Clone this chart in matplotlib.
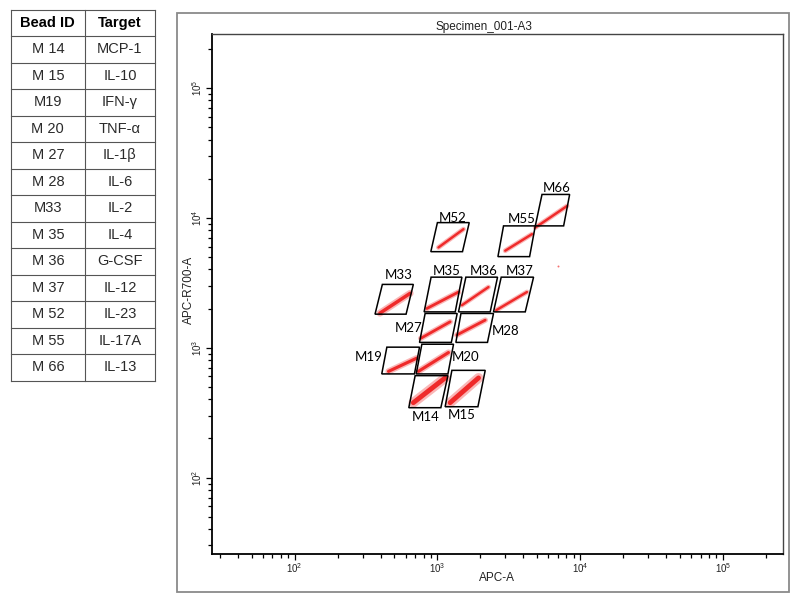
import matplotlib
matplotlib.use("Agg")
import numpy as np
import matplotlib.pyplot as plt
from matplotlib.patches import Polygon, Rectangle
from matplotlib.ticker import FixedLocator, LogLocator, NullFormatter, FuncFormatter

plt.rcParams['mathtext.default'] = 'regular'

# ---------------- data ----------------
bead_ids = ["M 14", "M 15", "M19", "M 20", "M 27", "M 28", "M33",
            "M 35", "M 36", "M 37", "M 52", "M 55", "M 66"]
targets = ["MCP-1", "IL-10", "IFN-γ", "TNF-α", "IL-1β", "IL-6", "IL-2",
           "IL-4", "G-CSF", "IL-12", "IL-23", "IL-17A", "IL-13"]

gate_names = ["M14", "M15", "M19", "M20", "M27", "M28", "M33",
              "M35", "M36", "M37", "M52", "M55", "M66"]
# gate corners (APC-A): bottom-left, bottom-right, top-right, top-left
gate_x = [
    [631, 1058, 1186, 699],
    [1134, 1923, 2164, 1264],
    [408, 691, 750, 443],
    [711, 1186, 1298, 779],
    [750, 1253, 1377, 821],
    [1348, 2244, 2473, 1463],
    [366, 604, 679, 412],
    [808, 1334, 1486, 904],
    [1406, 2345, 2639, 1584],
    [2473, 4127, 4718, 2800],
    [900, 1500, 1672, 1001],
    [2656, 4426, 4852, 2907],
    [4852, 7663, 8442, 5406],
]
# gate bottom / top (APC-R700-A)
gate_y = [
    [345, 609], [351, 669], [628, 1009], [628, 1063], [1098, 1834],
    [1098, 1834], [1811, 3069], [1886, 3490], [1886, 3490], [1886, 3490],
    [5483, 9178], [5022, 8660], [8660, 15120],
]
label_x = [834, 1469, 332, 1566, 627, 2988, 533, 1165, 2106, 3746, 1284, 3914, 6809]
label_y = [295, 301, 855, 855, 1409, 1350, 3595, 3878, 3878, 3878, 10002, 9741, 16980]

# bead populations: low end and high end of each event streak
pop_x0 = [679, 1229, 455, 737, 766, 1370, 396, 844, 1486, 2585, 1018, 2988, 4852]
pop_y0 = [377, 377, 657, 657, 1181, 1252, 1844, 2002, 2122, 1943, 5910, 5579, 8405]
pop_x1 = [1134, 1942, 718, 1196, 1229, 2164, 645, 1406, 2280, 4239, 1524, 4599, 8090]
pop_y1 = [585, 585, 831, 917, 1582, 1630, 2620, 2680, 2927, 2680, 8171, 7483, 12310]
stray_x = [7039]
stray_y = [4287]

x_range = [26.2, 262144]
y_range = [25.8, 262144]
major_ticks = [1e2, 1e3, 1e4, 1e5]

# ---------------- style ----------------
pop_width = [7, 7, 4.5, 4.5, 4, 4, 5, 4, 3.5, 3.5, 3.5, 3.5, 3.5]
narrow = ['Liberation Sans Narrow', 'Liberation Sans', 'DejaVu Sans']
RED = '#ee1111'

fig = plt.figure(figsize=(8, 6.02), dpi=100)

# background layer (table + outer frame) in pixel coordinates
bg = fig.add_axes([0, 0, 1, 1])
bg.set_xlim(0, 800)
bg.set_ylim(602, 0)
bg.axis('off')

# outer frame of plot panel
bg.add_patch(Rectangle((177, 13), 612, 579, fill=False, ec='#8a8a8a', lw=1.3))

# table
t_left, t_mid, t_right, t_top, row_h = 10.7, 85, 155, 9.5, 26.5
n_rows = len(bead_ids) + 1
t_bottom = t_top + n_rows * row_h
lc = '#555555'
for i in range(n_rows + 1):
    y = t_top + i * row_h
    bg.plot([t_left, t_right], [y, y], color=lc, lw=0.8)
for x in (t_left, t_mid, t_right):
    bg.plot([x, x], [t_top, t_bottom], color=lc, lw=0.8)
c1 = (t_left + t_mid) / 2
c2 = (t_mid + t_right) / 2
bg.text(c1, t_top + row_h / 2, "Bead ID", ha='center', va='center',
        fontsize=10.5, fontweight='bold', family='Liberation Sans', color='black')
bg.text(c2, t_top + row_h / 2, "Target", ha='center', va='center',
        fontsize=10.5, fontweight='bold', family='Liberation Sans', color='black')
for i, (b, t) in enumerate(zip(bead_ids, targets)):
    yc = t_top + (i + 1.5) * row_h
    bg.text(c1, yc, b, ha='center', va='center', fontsize=10.5,
            family='Liberation Sans', color='#2a2a2a')
    bg.text(c2, yc, t, ha='center', va='center', fontsize=10.5,
            family=['Liberation Sans', 'DejaVu Sans'], color='#2a2a2a')

# title and axis labels
fig.text(484 / 800, 1 - 30 / 602, "Specimen_001-A3", ha='center', va='baseline',
         fontsize=8.5, family=narrow, color='#222222', zorder=10)
fig.text(497 / 800, 1 - 578 / 602, "APC-A", ha='center', va='center',
         fontsize=8.5, family=narrow, color='#222222')
fig.text(189 / 800, 1 - 290 / 602, "APC-R700-A", ha='center', va='center',
         rotation=90, fontsize=8.5, family=narrow, color='#222222')

# ---------------- dot plot ----------------
ax = fig.add_axes([211.5 / 800, 1 - 554 / 602, 571.2 / 800, 520.5 / 602])
ax.patch.set_visible(False)
ax.set_xscale('log')
ax.set_yscale('log')
ax.set_xlim(*x_range)
ax.set_ylim(*y_range)

for i in range(len(gate_names)):
    xs = gate_x[i]
    yb, yt = gate_y[i]
    poly = Polygon(list(zip(xs, [yb, yb, yt, yt])), closed=True, fill=False,
                   ec='black', lw=1.1, zorder=3)
    ax.add_patch(poly)
    w = pop_width[i]
    ax.plot([pop_x0[i], pop_x1[i]], [pop_y0[i], pop_y1[i]], color=RED, lw=w,
            alpha=0.3, solid_capstyle='round', zorder=2)
    ax.plot([pop_x0[i], pop_x1[i]], [pop_y0[i], pop_y1[i]], color=RED, lw=w * 0.5,
            alpha=0.85, solid_capstyle='round', zorder=2)
    ax.text(label_x[i], label_y[i], gate_names[i], ha='center', va='center',
            fontsize=9.5, family=['Lato', 'DejaVu Sans'], color='black', zorder=4)

ax.scatter(stray_x, stray_y, s=2, color=RED, alpha=0.6, lw=0)

for axis in (ax.xaxis, ax.yaxis):
    axis.set_major_locator(FixedLocator(major_ticks))
    axis.set_minor_locator(LogLocator(base=10, subs=np.arange(2, 10)))
    axis.set_minor_formatter(NullFormatter())
    axis.set_major_formatter(FuncFormatter(lambda v, p: r'$10^{%d}$' % round(np.log10(v))))

ax.tick_params(which='major', direction='out', length=4, width=0.9, color='black')
ax.tick_params(which='minor', direction='out', length=3, width=0.9, color='black')
ax.tick_params(axis='x', labelsize=7, pad=1.5, labelcolor='#222222')
ax.tick_params(axis='y', labelsize=7, pad=1.5, labelrotation=90, labelcolor='#222222')
for lab in ax.get_xticklabels() + ax.get_yticklabels():
    lab.set_family(narrow)
for lab in ax.get_yticklabels():
    lab.set_va('center')

ax.spines['left'].set_linewidth(1.3)
ax.spines['bottom'].set_linewidth(1.3)
ax.spines['top'].set_color('#444444')
ax.spines['right'].set_color('#444444')
ax.spines['top'].set_linewidth(1.0)
ax.spines['right'].set_linewidth(1.0)

fig.savefig('out.png', dpi=100)
